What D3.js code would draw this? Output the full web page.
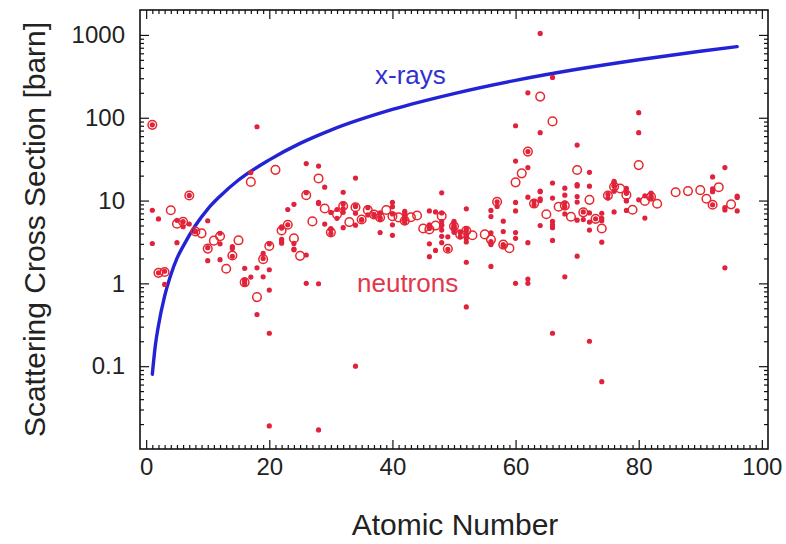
<!DOCTYPE html>
<html>
<head>
<meta charset="utf-8">
<script src="https://cdn.jsdelivr.net/npm/d3@7/dist/d3.min.js"></script>
<style>
  html, body { margin: 0; padding: 0; background: #fff; }
  svg { display: block; font-family: "Liberation Sans", Arial, Helvetica, sans-serif; }
</style>
</head>
<body>
<svg id="chart" width="786" height="544"></svg>
<script>
// ---------- data ----------
// x-ray coherent scattering curve
const xrayZ     = [1, 1.5, 2, 3, 4, 5, 6, 8, 10, 12, 15, 20, 25, 30, 40, 50, 60, 70, 80, 90, 96];
const xraySigma = [0.08, 0.18, 0.31, 0.7, 1.26, 2.0, 2.8, 5.0, 7.9, 11.3, 17.7, 31, 49, 71, 126, 196, 283, 385, 502, 636, 723];

// neutron cross sections of the elements (open circles)
const elementZ = [1,2,3,4,5,6,7,8,9,10,11,12,13,14,15,16,17,18,19,20,21,22,23,24,25,26,27,28,29,30,
  31,32,33,34,35,36,37,38,39,40,41,42,43,44,45,46,47,48,49,50,51,52,53,55,56,57,58,59,60,
  61,62,63,64,65,66,67,68,69,70,71,72,73,74,75,76,77,78,79,80,81,82,83,86,88,90,91,92,93,95];
const elementSigma = [82.02,1.34,1.37,7.63,5.24,5.55,11.51,4.23,4.02,2.63,3.28,3.71,1.50,2.17,3.31,1.03,16.8,0.683,1.96,2.83,
  23.5,4.35,5.1,3.49,2.15,11.62,5.6,18.5,8.03,4.13,
  6.83,8.6,5.5,8.3,5.9,7.68,6.8,6.25,7.7,6.46,6.26,5.71,6.3,6.6,4.6,4.48,4.99,6.5,2.62,4.89,3.9,4.32,3.81,3.9,3.38,9.66,2.94,2.66,16.6,
  21.3,39,9.2,180,6.84,90.3,8.42,8.7,6.38,23.4,7.2,10.2,6.01,4.6,11.5,14.7,14,11.71,7.75,26.8,9.89,11.12,9.16,12.6,13,13.36,10.5,8.9,14.5,9.0];

// neutron cross sections of the isotopes (filled dots)
const isotopeZ = [
  1,1,1, 2,2, 3,3, 5,5, 6,6, 7,7, 8,8,8, 10,10,10, 12,12,12, 14,14,14, 16,16,16,16,
  17,17, 18,18,18, 19,19,19, 20,20,20,20,20, 22,22,22,22,22, 23,23, 24,24,24,24, 26,26,26,26,
  28,28,28,28,28, 29,29, 30,30,30,30,30, 31,31, 32,32,32,32,32, 34,34,34,34,34,34, 35,35, 36,36,
  37,37, 38,38,38,38,38, 40,40,40,40,40, 42,42,42,42,42,42,42, 46,46,46,46,46, 47,47,
  48,48,48,48,48,48,48,48, 49,49, 50,50,50,50,50,50,50,50,50,50, 51,51, 52,52,52,52,52,52,52,52,
  56,56,56,56,56,56,56, 57,57, 58,58,58,58, 60,60,60,60,60,60,60, 62,62,62,62,62,62,62, 63,63,
  64,64,64,64,64,64,64, 66,66,66,66,66,66,66,66, 68,68,68,68,68,68, 70,70,70,70,70,70,70,
  71,71, 72,72,72,72,72,72, 73, 74,74,74,74,74, 75,75, 76,76,76,76,76,76,76, 78,78,78,78,78,78,
  80,80,80, 81,81, 82,82,82,82, 92,92,92,92, 94,94,94,94, 96,96,96];
const isotopeSigma = [
  82.03,7.64,3.03, 6.0,1.34, 0.97,1.4, 3.1,5.77, 5.56,4.84, 11.53,5.21, 4.23,4.2,4.29, 2.7,5.7,1.88, 4.03,1.93,3.0, 2.12,2.78,2.64, 0.99,1.1,1.52,1.05,
  21.8,1.19, 77.9,1.54,0.421, 2.0,2.3,1.2, 3.0,1.46,0.83,0.25,0.019, 3.05,3.2,4.65,3.4,4.8, 7.8,5.1, 2.54,3.04,9.0,2.6, 2.2,12.42,1.0,28,
  26.1,0.99,9.2,9.5,0.017, 5.2,14.5, 3.99,4.48,7.18,4.57,4.5, 7.8,6.1, 12.6,9.1,4.7,7.2,8.0, 0.1,18.7,8.6,8.5,7.03,5.05, 5.8,5.9, 8.2,6.7,
  6.8,6.6, 6.0,6.19,7.1,7.03,4.1, 5.1,9.5,6.9,8.4,3.8, 6.0,5.81,7.4,6.59,7.1,5.44,5.69, 4.6,7.5,5.1,2.1,3.0, 7.3,2.5,
  3.1,3.7,4.4,5.6,5.1,12.4,7.1,5.0, 3.65,2.57, 4.5,4.8,4.8,4.42,5.6,4.63,5.0,5.29,4.14,4.48, 4.1,3.64, 3.5,1.8,0.52,7.95,3.17,3.88,4.36,4.55,
  1.6,7.6,4.08,3.2,3.03,6.4,2.94, 8.5,9.66, 4.23,5.64,2.94,2.84, 7.5,80,1.0,30,9.5,4.1,3.5, 1.13,39,1.0,200,25,3.1,11, 8.9,9.8,
  13,12.8,66,5.0,1044,10,10.52, 4.7,5.1,5.6,16.3,0.25,3.3,307,10.7, 9.4,8.4,14.1,1.2,6.9,11.6, 2.13,5.8,15.6,11.2,15,46.8,9.6,
  7.3,5.9, 14.9,5.5,0.2,4.4,7.1,21.9, 6.01, 3.14,6.1,5.7,7.03,0.065, 10.7,11.9, 13,17,13,7.3,14.9,15.2,16.6, 10,12.3,14,9.9,12.3,7.6,
  115,66,10.2, 6.14,11.4, 12.3,10.68,10.82,11.34, 12.8,19.3,13.8,8.87, 25,7.7,1.54,8.2, 11.3,10.9,7.5];

const xTickValues = [0, 20, 40, 60, 80, 100];
const yTickValues = [0.1, 1, 10, 100, 1000];
const yTickLabels = ["0.1", "1", "10", "100", "1000"];

// ---------- layout ----------
const svg = d3.select("#chart");
const L = 140, R = 768, T = 10, B = 449;
const x = d3.scaleLinear().domain([-1, 101]).range([L, R]);
const y = d3.scaleLog().domain([0.01, 2000]).range([B, T]);

const xMinor = d3.range(0, 101, 1).filter(v => v % 20 !== 0);
const yMinor = [];
[0.01, 0.1, 1, 10, 100, 1000].forEach(d => { for (let k = 2; k <= 9; k++) { const v = d * k; if (v < 2000) yMinor.push(v); } });

function styleAxis(g) {
  g.select(".domain").remove();
  g.selectAll(".tick line").attr("stroke", "#111").attr("stroke-width", 1.2);
}

// major / minor ticks on all four sides (inward)
svg.append("g").attr("transform", `translate(0,${B})`)
  .call(d3.axisBottom(x).tickValues(xMinor).tickSize(-4).tickFormat(""))
  .call(styleAxis);
svg.append("g").attr("transform", `translate(0,${B})`)
  .call(d3.axisBottom(x).tickValues(xTickValues).tickSize(-9).tickPadding(9).tickFormat(d3.format("d")))
  .call(styleAxis)
  .call(g => g.selectAll("text").attr("font-size", 24).attr("fill", "#222"));
svg.append("g").attr("transform", `translate(0,${T})`)
  .call(d3.axisTop(x).tickValues(xMinor).tickSize(-4).tickFormat(""))
  .call(styleAxis);
svg.append("g").attr("transform", `translate(0,${T})`)
  .call(d3.axisTop(x).tickValues(xTickValues).tickSize(-9).tickFormat(""))
  .call(styleAxis);

svg.append("g").attr("transform", `translate(${L},0)`)
  .call(d3.axisLeft(y).tickValues(yMinor).tickSize(-4).tickFormat(""))
  .call(styleAxis);
svg.append("g").attr("transform", `translate(${L},0)`)
  .call(d3.axisLeft(y).tickValues(yTickValues).tickSize(-9).tickPadding(15)
    .tickFormat((d, i) => yTickLabels[i]))
  .call(styleAxis)
  .call(g => g.selectAll("text").attr("font-size", 24).attr("fill", "#222"));
svg.append("g").attr("transform", `translate(${R},0)`)
  .call(d3.axisRight(y).tickValues(yMinor).tickSize(-4).tickFormat(""))
  .call(styleAxis);
svg.append("g").attr("transform", `translate(${R},0)`)
  .call(d3.axisRight(y).tickValues(yTickValues).tickSize(-9).tickFormat(""))
  .call(styleAxis);

// frame
svg.append("rect").attr("x", L).attr("y", T).attr("width", R - L).attr("height", B - T)
  .attr("fill", "none").attr("stroke", "#111").attr("stroke-width", 1.6);

// x-ray curve
const line = d3.line().x((d, i) => x(xrayZ[i])).y(d => y(d)).curve(d3.curveMonotoneX);
svg.append("path").datum(xraySigma).attr("d", line)
  .attr("fill", "none").attr("stroke", "#2323d6").attr("stroke-width", 3.4).attr("stroke-linecap", "round");

// neutron elements (open circles)
svg.append("g").selectAll("circle").data(elementSigma).join("circle")
  .attr("cx", (d, i) => x(elementZ[i])).attr("cy", d => y(d)).attr("r", 4.3)
  .attr("fill", "none").attr("stroke", "#e8262b").attr("stroke-width", 1.5);

// neutron isotopes (filled dots)
svg.append("g").selectAll("circle").data(isotopeSigma).join("circle")
  .attr("cx", (d, i) => x(isotopeZ[i])).attr("cy", d => y(d)).attr("r", 2.6)
  .attr("fill", "#e0223c");

// labels
svg.append("text").attr("x", 375).attr("y", 84).attr("font-size", 26).attr("fill", "#3030d0").text("x-rays");
svg.append("text").attr("x", 357).attr("y", 292).attr("font-size", 26).attr("fill", "#e0384c").text("neutrons");

svg.append("text").attr("x", (L + R) / 2 + 1).attr("y", 535).attr("text-anchor", "middle")
  .attr("font-size", 30).attr("fill", "#222").text("Atomic Number");
svg.append("text").attr("transform", `translate(45,${(T + B) / 2}) rotate(-90)`).attr("text-anchor", "middle")
  .attr("font-size", 30).attr("fill", "#222").text("Scattering Cross Section [barn]");
</script>
</body>
</html>
